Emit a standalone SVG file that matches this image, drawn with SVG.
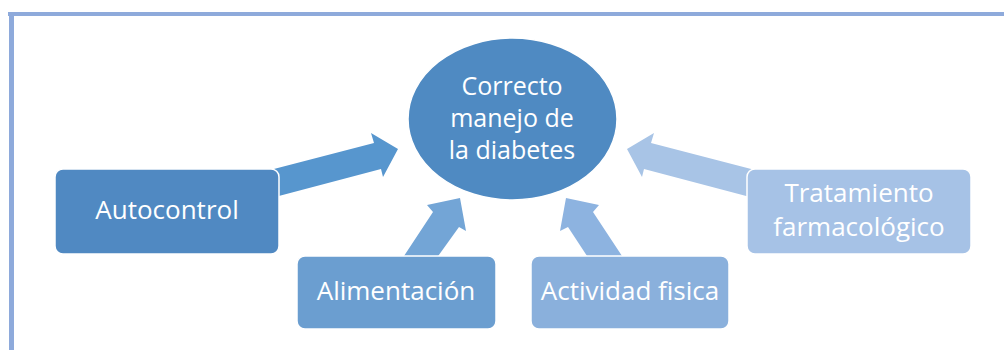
<svg xmlns="http://www.w3.org/2000/svg" width="1004" height="350" viewBox="0 0 1004 350">
<style>
.box{stroke:#ffffff;stroke-width:1.5}
.t{font-family:"Open Sans","Liberation Sans",sans-serif;font-size:26px;fill:#ffffff;text-anchor:middle}
.te{font-family:"Open Sans","Liberation Sans",sans-serif;font-size:25px;fill:#ffffff;text-anchor:middle}
</style>
<rect width="1004" height="350" fill="#ffffff"/>
<g id="frame">
<rect x="8" y="12" width="996" height="4" fill="#8eaadb"/>
<rect x="9" y="12" width="5" height="338" fill="#8eaadb"/>
</g>
<g id="connectors">
<polygon points="270,170 374,143 371,133 398,149 383,177 381,169 275,197" fill="#5796ce"/>
<polygon points="402,259 433,212 427,205 460,198 466,231 459,227 436,259" fill="#73a5d6"/>
<polygon points="589,259 568,227 560,231 566,198 599,205 593,212 624,259" fill="#8db3e0"/>
<polygon points="755,170 651,143 654,133 627,149 642,177 644,169 750,197" fill="#a8c4e6"/>
</g>
<g id="center">
<ellipse cx="512.5" cy="119" rx="104.5" ry="81" fill="#4f8ac2" stroke="#ffffff" stroke-width="1.5"/>
<text class="te" x="512" y="95">Correcto</text>
<text class="te" x="512" y="127">manejo de</text>
<text class="te" x="512" y="159">la diabetes</text>
</g>
<g id="autocontrol">
<rect class="box" x="55" y="169" width="224" height="85" rx="8" fill="#5089c2"/>
<text class="t" x="167" y="219">Autocontrol</text>
</g>
<g id="alimentacion">
<rect class="box" x="297" y="256" width="199" height="73" rx="8" fill="#6b9ed0"/>
<text class="t" x="396" y="300">Alimentación</text>
</g>
<g id="actividad">
<rect class="box" x="531" y="256" width="198" height="73" rx="8" fill="#8ab0dc"/>
<text class="t" x="630" y="300">Actividad fisica</text>
</g>
<g id="tratamiento">
<rect class="box" x="747" y="169" width="224" height="85" rx="8" fill="#a6c2e6"/>
<text class="t" x="859" y="202">Tratamiento</text>
<text class="t" x="859" y="236">farmacológico</text>
</g>
</svg>
